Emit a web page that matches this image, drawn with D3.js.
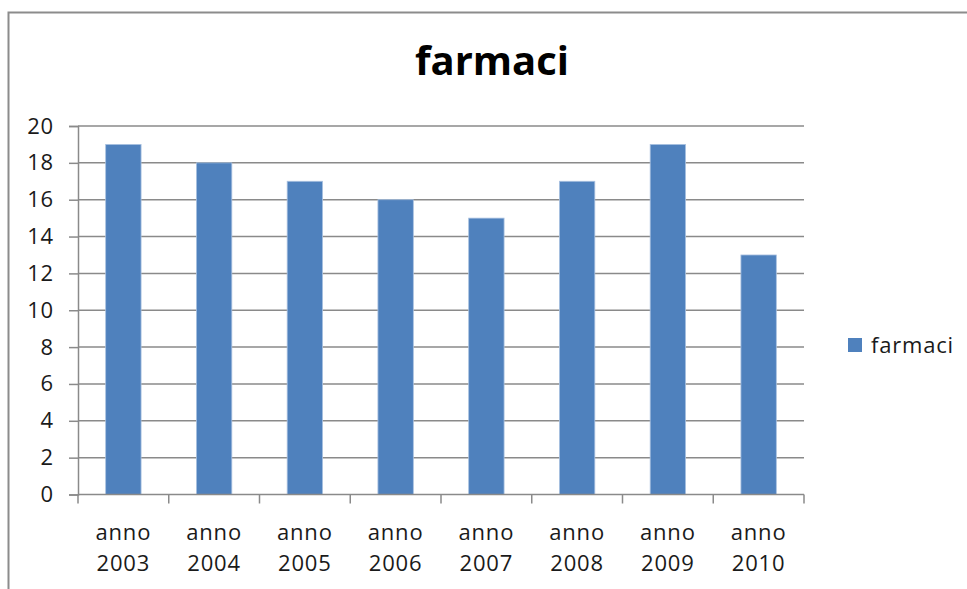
<!DOCTYPE html>
<html>
<head>
<meta charset="utf-8">
<script src="https://cdn.jsdelivr.net/npm/d3@7/dist/d3.min.js"></script>
<style>
  html, body { margin: 0; padding: 0; background: #fff; }
  svg { display: block; font-family: "Open Sans", "DejaVu Sans", sans-serif; }
</style>
</head>
<body>
<svg id="chart" width="967" height="589"></svg>
<script>
// Chart data
const years = ["2003", "2004", "2005", "2006", "2007", "2008", "2009", "2010"];
const categoryPrefix = "anno";
const farmaci = [19, 18, 17, 16, 15, 17, 19, 13];
const yTicks = [0, 2, 4, 6, 8, 10, 12, 14, 16, 18, 20];
const seriesName = "farmaci";
const chartTitle = "farmaci";

const svg = d3.select("#chart");
const W = 967, H = 589;
const plot = { left: 78, right: 804, top: 126, bottom: 494.5 };
const gridColor = "#8a8a8a";
const barColor = "#4f81bd";
const labelFont = { size: 22, spacing: 0.8, color: "#1a1a1a" };

// Chart area frame
svg.append("rect")
  .attr("x", 8.5).attr("y", 12.5)
  .attr("width", W + 10).attr("height", H + 10)
  .attr("fill", "#fff")
  .attr("stroke", "#8c8c8c").attr("stroke-width", 2);

const x = d3.scaleBand().domain(years).range([plot.left, plot.right]).padding(0);
const y = d3.scaleLinear().domain([0, 20]).range([plot.bottom, plot.top]);

// Horizontal gridlines
svg.append("g")
  .selectAll("line").data(yTicks.filter(d => d > 0)).join("line")
  .attr("x1", plot.left).attr("x2", plot.right)
  .attr("y1", d => y(d)).attr("y2", d => y(d))
  .attr("stroke", gridColor).attr("stroke-width", 1.5);

// Bars
const barW = x.bandwidth() * 0.39;
svg.append("g")
  .selectAll("rect").data(farmaci).join("rect")
  .attr("x", (d, i) => x(years[i]) + (x.bandwidth() - barW) / 2)
  .attr("y", d => y(d))
  .attr("width", barW)
  .attr("height", d => y(0) - y(d))
  .attr("fill", barColor)
  .attr("stroke", "#a9c1e0").attr("stroke-width", 0.8);

// Y axis
const yAxis = d3.axisLeft(y).tickValues(yTicks).tickSize(9).tickPadding(15);
const gy = svg.append("g").attr("transform", `translate(${plot.left},0)`).call(yAxis);
gy.select(".domain").attr("stroke", gridColor).attr("stroke-width", 1.5);
gy.selectAll(".tick line").attr("stroke", gridColor).attr("stroke-width", 1.5);
gy.selectAll(".tick text")
  .attr("font-size", labelFont.size).attr("fill", labelFont.color)
  .attr("letter-spacing", labelFont.spacing)
  .attr("font-family", "'Open Sans', sans-serif");

// X axis: ticks at category boundaries
const gx = svg.append("g").attr("transform", `translate(0,${plot.bottom})`);
gx.append("line")
  .attr("x1", plot.left).attr("x2", plot.right)
  .attr("stroke", gridColor).attr("stroke-width", 1.5);
const bounds = years.map(d => x(d)).concat([x(years[years.length - 1]) + x.bandwidth()]);
gx.selectAll("line.tick").data(bounds).join("line")
  .attr("class", "tick")
  .attr("x1", d => d).attr("x2", d => d)
  .attr("y1", 0).attr("y2", 9)
  .attr("stroke", gridColor).attr("stroke-width", 1.5);
const labels = gx.selectAll("text").data(years).join("text")
  .attr("text-anchor", "middle")
  .attr("font-size", labelFont.size).attr("fill", labelFont.color)
  .attr("letter-spacing", labelFont.spacing);
labels.append("tspan")
  .attr("x", d => x(d) + x.bandwidth() / 2).attr("y", 45)
  .text(categoryPrefix);
labels.append("tspan")
  .attr("x", d => x(d) + x.bandwidth() / 2).attr("y", 76)
  .text(d => d);

// Title
svg.append("text")
  .attr("x", 492).attr("y", 75)
  .attr("text-anchor", "middle")
  .attr("font-size", 40).attr("font-weight", "bold").attr("fill", "#000")
  .text(chartTitle);

// Legend
svg.append("rect")
  .attr("x", 848).attr("y", 338).attr("width", 14).attr("height", 14)
  .attr("fill", barColor);
svg.append("text")
  .attr("x", 871).attr("y", 353)
  .attr("font-size", labelFont.size).attr("fill", labelFont.color)
  .attr("letter-spacing", labelFont.spacing)
  .text(seriesName);
</script>
</body>
</html>
